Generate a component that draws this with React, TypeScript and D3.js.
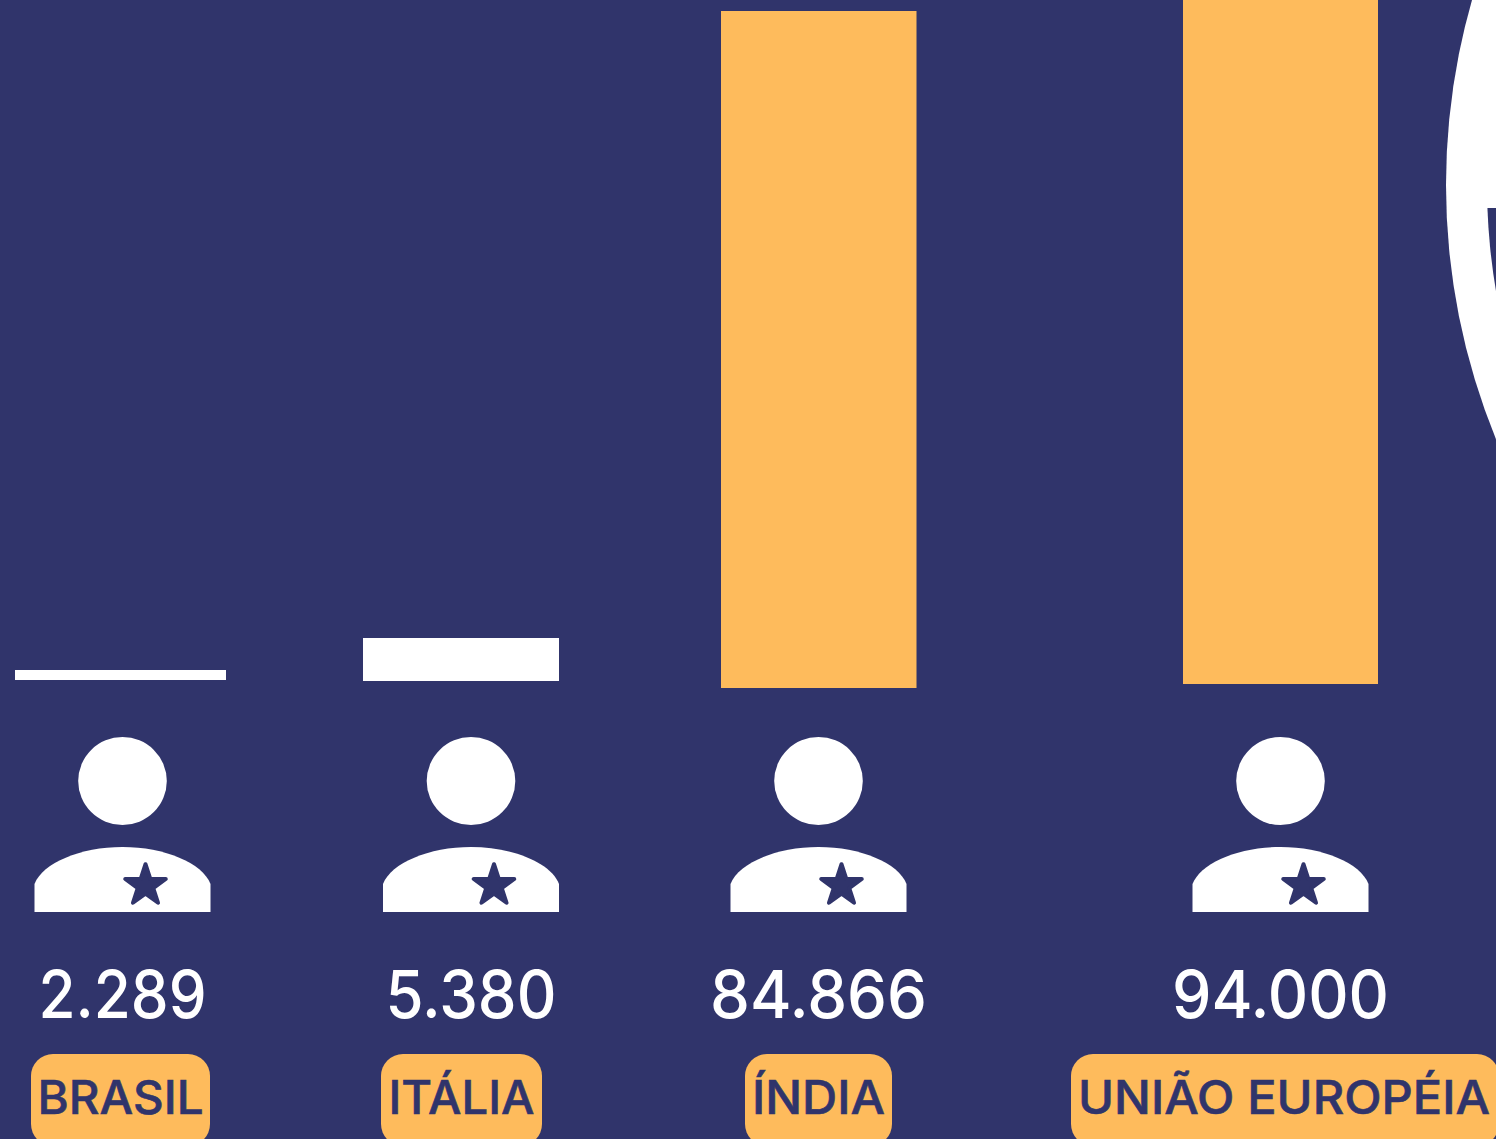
import React from "react";
import * as d3 from "d3";

const categories = ["BRASIL", "ITÁLIA", "ÍNDIA", "UNIÃO EUROPÉIA"];
const valueLabels = ["2.289", "5.380", "84.866", "94.000"];
// Bar lengths, in the chart's units
const drawnValues = [1253, 5390, 84866, 94000];
const highlighted = [false, false, true, true];

const W = 1496;
const H = 1139;
const NAVY = "#30346b";
const ORANGE = "#febb5c";

// Layout (per category, not data)
const centers = [122.5, 471, 818.5, 1280.5];
const barLeft = [15, 363, 721, 1183];
const barWidth = [211, 196, 195.5, 195];
const baseline = [680, 681, 688, 684];
const pillLeft = [31, 381, 745, 1071];
const pillWidth = [179, 161, 147, 428];
const valueWidth = [168, 171, 217, 217];
const labelWidth = [166, 146, 133, 412];

const x = d3.scaleOrdinal<string, number>().domain(categories).range(centers);
const y = d3.scaleLinear().domain([0, 84866]).range([0, 677]);

const bodyPath = (() => {
  const p = d3.path();
  p.moveTo(-88, 131);
  p.lineTo(-88, 103);
  p.bezierCurveTo(-80, 82, -42, 66, 0, 66);
  p.bezierCurveTo(42, 66, 80, 82, 88, 103);
  p.lineTo(88, 131);
  p.closePath();
  return p.toString();
})();
const starPath = d3.symbol().type(d3.symbolStar).size(510)() as string;

const ringOuter = d3.arc()({ innerRadius: 0, outerRadius: 671, startAngle: 0, endAngle: 2 * Math.PI }) as string;
const ringInner = d3.arc()({ innerRadius: 0, outerRadius: 630, startAngle: 0, endAngle: 2 * Math.PI }) as string;

export default function App() {
  return (
    <svg
      width={W}
      height={H}
      viewBox={`0 0 ${W} ${H}`}
      style={{ position: "absolute", left: 0, top: 0, display: "block" }}
    >
      <defs>
        <clipPath id="notch">
          <rect x={1400} y={208} width={200} height={H} />
        </clipPath>
      </defs>
      <rect width={W} height={H} fill={NAVY} />

      <path d={ringOuter} transform="translate(2117,185)" fill="#fff" />
      <g clipPath="url(#notch)">
        <path d={ringInner} transform="translate(2117,185)" fill={NAVY} />
      </g>

      {categories.map((c, i) => {
        const cx = x(c);
        const h = y(drawnValues[i]);
        return (
          <g key={c}>
            <rect
              x={barLeft[i]}
              y={baseline[i] - h}
              width={barWidth[i]}
              height={h}
              fill={highlighted[i] ? ORANGE : "#fff"}
            />
            <g transform={`translate(${cx},781)`}>
              <ellipse cx={0} cy={0} rx={44.3} ry={44} fill="#fff" />
              <path d={bodyPath} fill="#fff" />
              <path
                d={starPath}
                transform="translate(23,104.5)"
                fill={NAVY}
                stroke={NAVY}
                strokeWidth={4}
                strokeLinejoin="round"
              />
            </g>
            <text
              x={cx}
              y={1018}
              textAnchor="middle"
              fontFamily="Inter, sans-serif"
              fontSize={66}
              fontWeight={500}
              fill="#fff"
              textLength={valueWidth[i]}
              lengthAdjust="spacingAndGlyphs"
            >
              {valueLabels[i]}
            </text>
            <rect x={pillLeft[i]} y={1054} width={pillWidth[i]} height={92} rx={22} fill={ORANGE} />
            <text
              x={pillLeft[i] + pillWidth[i] / 2 - (i === 3 ? 1 : 0)}
              y={1114}
              textAnchor="middle"
              fontFamily="Inter, sans-serif"
              fontSize={47}
              fontWeight={500}
              fill={NAVY}
              stroke={NAVY}
              strokeWidth={0.6}
              textLength={labelWidth[i]}
              lengthAdjust="spacingAndGlyphs"
            >
              {c}
            </text>
          </g>
        );
      })}
    </svg>
  );
}
